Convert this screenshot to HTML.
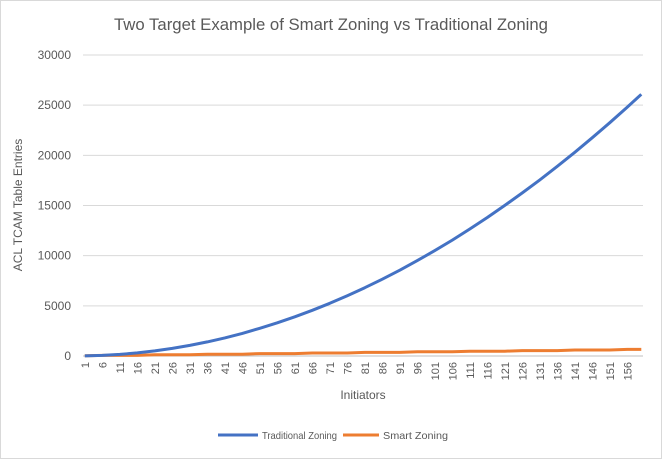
<!DOCTYPE html>
<html><head><meta charset="utf-8"><style>
body{margin:0;background:#fff;font-family:"Liberation Sans",sans-serif}
svg text{font-family:"Liberation Sans",sans-serif;fill:#595959}
</style></head><body>
<svg width="662" height="459">
<rect x="0.5" y="0.5" width="661" height="458" fill="#fff" stroke="#d9d9d9"/>
<text x="114" y="30" font-size="17" textLength="434" lengthAdjust="spacingAndGlyphs">Two Target Example of Smart Zoning vs Traditional Zoning</text>
<g id="grid"></g><g id="yt"></g><g id="xt"></g><g id="series"></g>
<text transform="translate(22,205) rotate(-90)" text-anchor="middle" font-size="12">ACL TCAM Table Entries</text>
<text x="363" y="399" text-anchor="middle" font-size="12">Initiators</text>
<g><line x1="218" y1="435" x2="258" y2="435" stroke="#4472c4" stroke-width="3"/><text x="262" y="439" font-size="10.5" textLength="75" lengthAdjust="spacingAndGlyphs">Traditional Zoning</text></g>
<g><line x1="343" y1="435" x2="379" y2="435" stroke="#ed7d31" stroke-width="3"/><text x="383" y="439" font-size="10.5" textLength="65" lengthAdjust="spacingAndGlyphs">Smart Zoning</text></g>
</svg>
<script>
const xs=[1,6,11,16,21,26,31,36,41,46,51,56,61,66,71,76,81,86,91,96,101,106,111,116,121,126,131,136,141,146,151,156,160];
const traditional=[6,56,156,306,506,756,1056,1406,1806,2256,2756,3306,3906,4556,5256,6006,6806,7656,8556,9506,10506,11556,12656,13806,15006,16256,17556,18906,20306,21756,23256,24806,26082];
const smart=[20,60,60,60,120,120,120,180,180,180,240,240,240,300,300,300,360,360,360,420,420,420,480,480,480,540,540,540,600,600,600,660,660];
const yTicks=[0,5000,10000,15000,20000,25000,30000];
const NS="http://www.w3.org/2000/svg";
const X0=83,STEP=3.5,Y0=356,YMAX=30000,YH=301;
const sx=c=>X0+(c-0.5)*STEP, sy=v=>Y0-v/YMAX*YH;
function mk(t,a,p){const e=document.createElementNS(NS,t);for(const k in a)e.setAttribute(k,a[k]);document.getElementById(p).appendChild(e);return e;}
yTicks.forEach(v=>{
 const l=mk('line',{x1:X0,x2:X0+160*STEP,y1:sy(v),y2:sy(v),stroke:v===0?'#bfbfbf':'#d9d9d9','stroke-width':1},'grid');
 
 
 const t=mk('text',{x:X0-12,y:sy(v)+4,'text-anchor':'end','font-size':'12'},'yt');t.textContent=v;
 
 
});
for(let c=1;c<=160;c+=5){
 const t=mk('text',{transform:`translate(${sx(c)+4},${Y0+6}) rotate(-90)`,'text-anchor':'end','font-size':'11'},'xt');t.textContent=c;
 
 
}
function line(vals,color,name){
 const d=xs.map((c,i)=>(i?'L':'M')+sx(c).toFixed(1)+','+sy(vals[i]).toFixed(1)).join('');
 const p=mk('path',{d:d,fill:'none',stroke:color,'stroke-width':3,'stroke-linejoin':'round'},'series');
 
 
}
line(smart,'#ed7d31','smart-zoning-line');
line(traditional,'#4472c4','traditional-zoning-line');
</script>
</body></html>
